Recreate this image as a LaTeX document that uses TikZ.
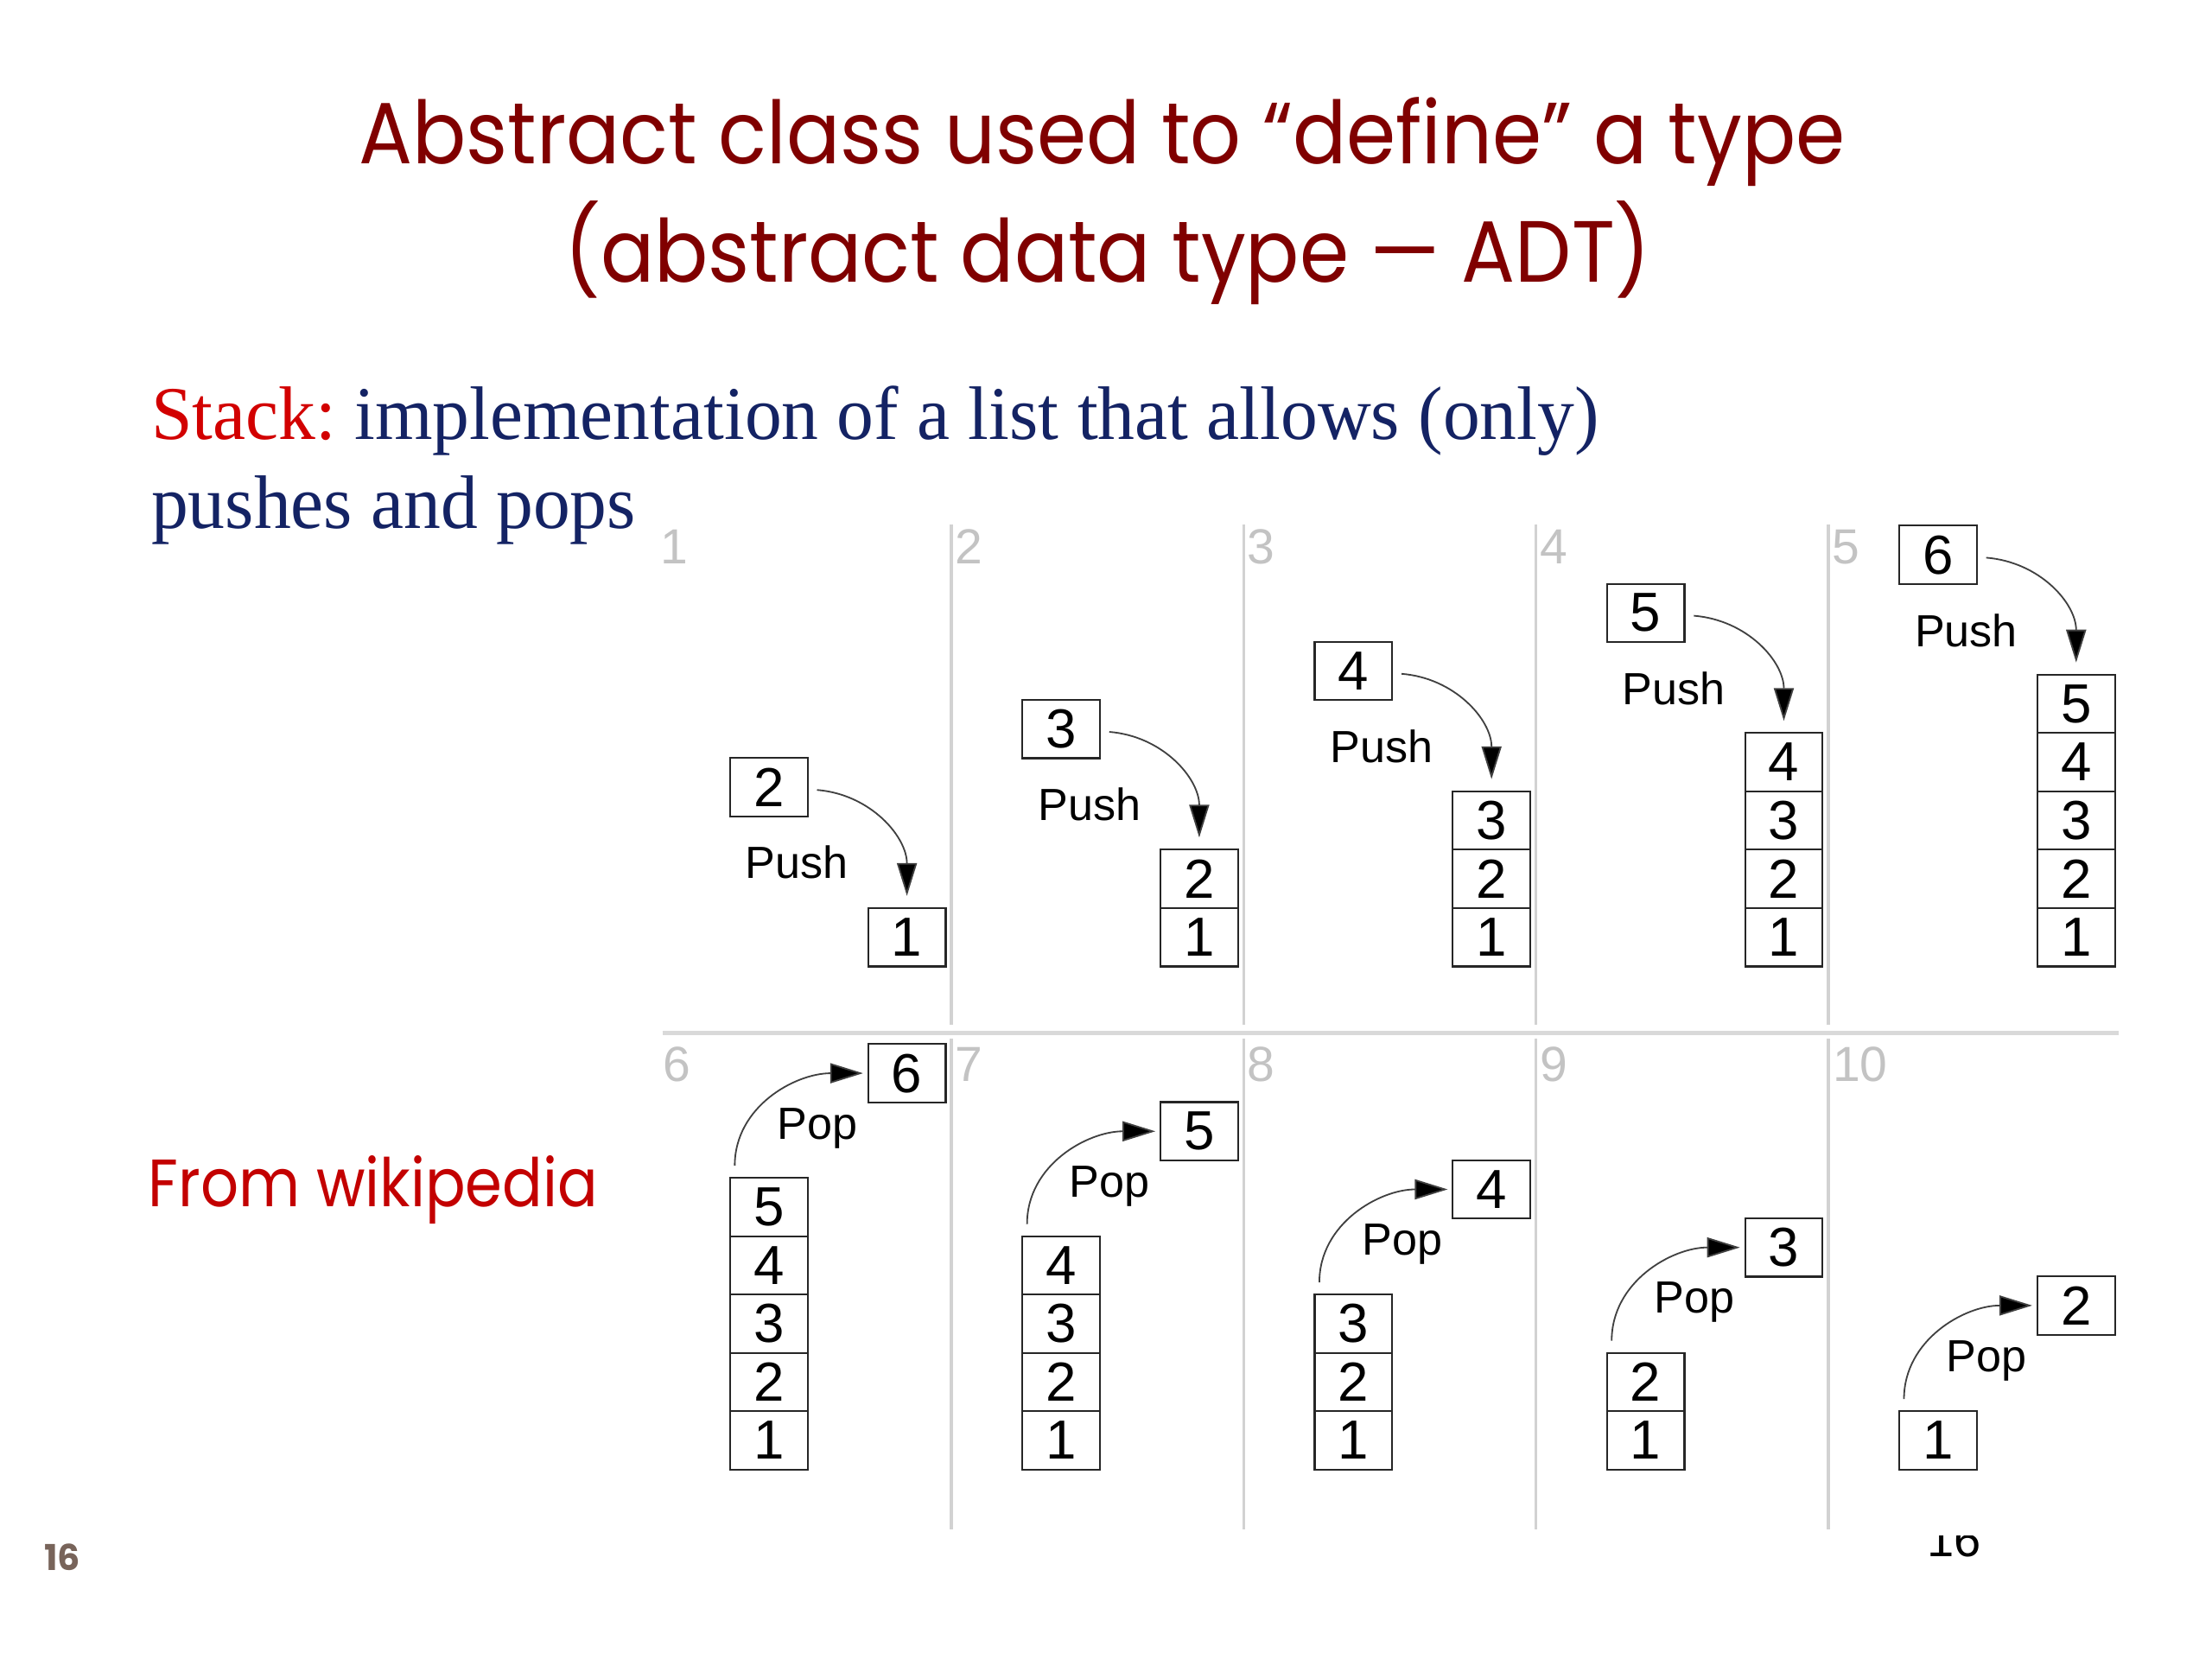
\documentclass[tikz,border=0pt]{standalone}
\usepackage{fontspec}
\setmainfont{Liberation Serif}[FakeStretch=0.975]
\newfontfamily\titlef{Poppins}[FakeStretch=0.915]
\newfontfamily\wikif{Poppins}[FakeStretch=0.89]
\newfontfamily\pagef{Poppins}
\newfontfamily\diagf{Liberation Sans}
\usetikzlibrary{arrows.meta}
\definecolor{titlered}{RGB}{128,0,0}
\definecolor{stackred}{RGB}{210,0,0}
\definecolor{navyblue}{RGB}{20,35,100}
\definecolor{wikired}{RGB}{195,0,0}
\definecolor{pagenum}{RGB}{120,100,90}
\definecolor{divgray}{RGB}{210,210,210}
\definecolor{numgray}{RGB}{195,195,195}
\begin{document}
\frenchspacing
\begin{tikzpicture}[x=0.4944pt,y=-0.4944pt,
  cell/.style={draw=black!85, line width=0.65pt, minimum width=27.2pt, minimum height=20.47pt, inner sep=0pt, font=\diagf\fontsize{19.3}{20}\selectfont},
  lab/.style={inner sep=0pt, font=\diagf\fontsize{15.8}{18}\selectfont},
  pnum/.style={inner sep=0pt, anchor=west, text=numgray, font=\diagf\fontsize{17.3}{18}\selectfont},
  arr/.style={draw=black!75, line width=0.55pt, -{Triangle[length=11.5pt,width=7pt,fill=black]}},
  div/.style={draw=divgray, line width=1pt}]
\useasboundingbox (0,0) rectangle (1569.5,1177.1);
\fill[white] (0,0) rectangle (1569.5,1177.1);
% title
\node[anchor=base, inner sep=0pt, text=titlered, font=\titlef\fontsize{30.5}{36}\selectfont] (t1) at (782,116) {Abstract class used to “define” a type};
\node[anchor=base, inner sep=0pt, text=titlered, font=\titlef\fontsize{30.5}{36}\selectfont] (t2) at (786,200) {(abstract data type — ADT)};
% stack text
\node[anchor=base west, inner sep=0pt, font=\fontsize{26.6}{30}\selectfont] (s1) at (107,312) {\textcolor{stackred}{Stack:} \textcolor{navyblue}{implementation of a list that allows (only)}};
\node[anchor=base west, inner sep=0pt, text=navyblue, font=\fontsize{26.6}{30}\selectfont] (s2) at (107,375) {pushes and pops};
% from wikipedia
\node[anchor=base west, inner sep=0pt, text=wikired, font=\wikif\fontsize{23.5}{28}\selectfont] (wk) at (105,856) {From wikipedia};
% page number
\node[anchor=base west, inner sep=0pt, text=pagenum, font=\pagef\bfseries\fontsize{12.5}{14}\selectfont] (pg) at (31,1114) {16};
\begin{scope}
\clip (1340,1090) rectangle (1440,1125);
\node[anchor=base west, inner sep=0pt, font=\diagf\fontsize{17}{18}\selectfont] (pg2) at (1367,1104.5) {16};
\end{scope}
% grid lines
\draw[draw=divgray!85!white, line width=1.5pt] (470,733) -- (1503,733);
\foreach \k in {0,...,3} {
  \draw[div] (675+207.4*\k,372) -- (675+207.4*\k,727);
  \draw[div] (675+207.4*\k,737) -- (675+207.4*\k,1085);
}
% panel numbers
\foreach \x/\t [count=\i] in {468/1,677.4/2,884.8/3,1092.2/4,1299.6/5} {
  \node[pnum] (nt\i) at (\x,388) {\t};
}
\foreach \x/\t [count=\i] in {470/6,677.4/7,884.8/8,1092.2/9,1300/10} {
  \node[pnum] (nb\i) at (\x,755) {\t};
}
% top row: pushes
\foreach \k in {0,...,4} {
  \pgfmathsetmacro\L{470+207.4*\k}
  \pgfmathtruncatemacro\v{\k+2}
  \pgfmathtruncatemacro\n{\k+1}
  \node[cell] (tn\k) at (\L+75.5,558.5-41.2*\k) {\v};
  \foreach \j in {1,...,\n} {
    \node[cell] (ts\k-\j) at (\L+173.5,665-41.4*\j+41.4) {\j};
  }
  \node[lab] (tp\k) at (\L+95.5,612-41.2*\k) {Push};
  \draw[arr] ([shift={(6,2)}]tn\k.east) .. controls +(38,3) and +(0,-42) .. ([shift={(0,-8)}]ts\k-\n.north);
}
% bottom row: pops
\foreach \k in {0,...,4} {
  \pgfmathsetmacro\L{470+207.4*\k}
  \pgfmathtruncatemacro\v{6-\k}
  \pgfmathtruncatemacro\n{5-\k}
  \node[cell] (bn\k) at (\L+173.5,761.5+41.2*\k) {\v};
  \foreach \j in {1,...,\n} {
    \node[cell] (bs\k-\j) at (\L+75.5,1022-41.4*\j+41.4) {\j};
  }
  \node[lab] (bp\k) at (\L+110,800.5+41.2*\k) {Pop};
  \draw[arr] ([shift={(4,-8)}]bs\k-\n.north west) .. controls +(0,-42) and +(-48,0) .. ([shift={(-3,0)}]bn\k.west);
}
\end{tikzpicture}
\end{document}
